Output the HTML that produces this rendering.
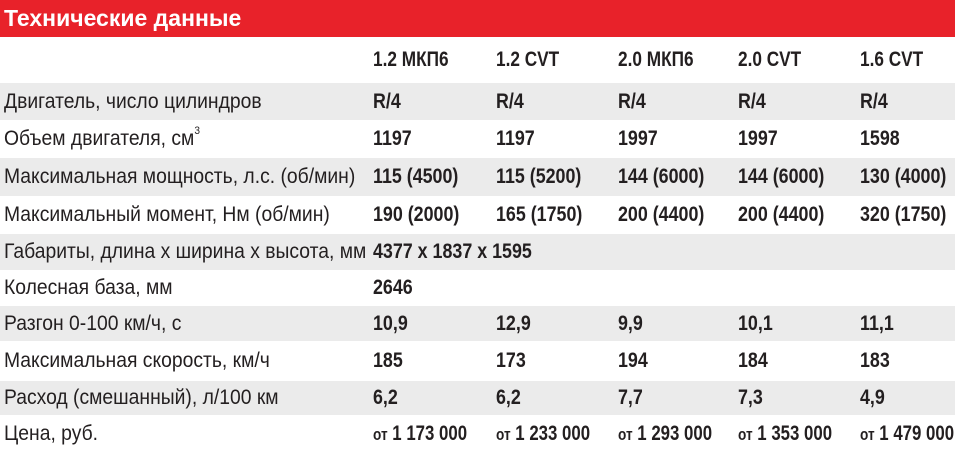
<!DOCTYPE html>
<html><head><meta charset="utf-8"><style>
body{margin:0;width:955px;height:452px;overflow:hidden;background:#fff;font-family:"Liberation Sans",sans-serif;color:#231f20}
.hd{position:absolute;left:0;top:0;width:955px;height:37px;background:#e8222a;color:#fff;font:bold 23px "Liberation Sans",sans-serif;line-height:37px;padding-left:4px;box-sizing:border-box}
.r{position:absolute;left:0;width:955px}
.g{background:#ebebeb}
.r span{position:absolute;top:50%;white-space:nowrap;font-size:21px;transform-origin:left center}
.l{left:4px;transform:translateY(-50%) scaleX(0.92)}
.v{font-weight:bold;font-size:21px;transform:translateY(-50%) scaleX(0.85)}
.h .v{transform:translateY(-50%) scaleX(0.82)}
.p .v{transform:translateY(-50%) scaleX(0.8)}
.p small{font-size:17px}
sup{font-size:11px;vertical-align:top;position:relative;top:-2px}
</style></head><body>
<div class="hd">Технические данные</div>
<div class="r h" style="top:37px;height:46px"><span class="v" style="left:373px">1.2 МКП6</span><span class="v" style="left:496px">1.2 CVT</span><span class="v" style="left:618px">2.0 МКП6</span><span class="v" style="left:738px">2.0 CVT</span><span class="v" style="left:860px">1.6 CVT</span></div>
<div class="r g" style="top:83px;height:37px"><span class="l">Двигатель, число цилиндров</span><span class="v" style="left:373px">R/4</span><span class="v" style="left:496px">R/4</span><span class="v" style="left:618px">R/4</span><span class="v" style="left:738px">R/4</span><span class="v" style="left:860px">R/4</span></div>
<div class="r" style="top:120px;height:38px"><span class="l">Объем двигателя, см<sup>3</sup></span><span class="v" style="left:373px">1197</span><span class="v" style="left:496px">1197</span><span class="v" style="left:618px">1997</span><span class="v" style="left:738px">1997</span><span class="v" style="left:860px">1598</span></div>
<div class="r g" style="top:158px;height:38px"><span class="l">Максимальная мощность, л.с. (об/мин)</span><span class="v" style="left:373px">115 (4500)</span><span class="v" style="left:496px">115 (5200)</span><span class="v" style="left:618px">144 (6000)</span><span class="v" style="left:738px">144 (6000)</span><span class="v" style="left:860px">130 (4000)</span></div>
<div class="r" style="top:196px;height:38px"><span class="l">Максимальный момент, Нм (об/мин)</span><span class="v" style="left:373px">190 (2000)</span><span class="v" style="left:496px">165 (1750)</span><span class="v" style="left:618px">200 (4400)</span><span class="v" style="left:738px">200 (4400)</span><span class="v" style="left:860px">320 (1750)</span></div>
<div class="r g" style="top:234px;height:36px"><span class="l">Габариты, длина х ширина х высота, мм</span><span class="v" style="left:373px">4377 х 1837 х 1595</span></div>
<div class="r" style="top:270px;height:36px"><span class="l">Колесная база, мм</span><span class="v" style="left:373px">2646</span></div>
<div class="r g" style="top:306px;height:35px"><span class="l">Разгон 0-100 км/ч, с</span><span class="v" style="left:373px">10,9</span><span class="v" style="left:496px">12,9</span><span class="v" style="left:618px">9,9</span><span class="v" style="left:738px">10,1</span><span class="v" style="left:860px">11,1</span></div>
<div class="r" style="top:341px;height:40px"><span class="l">Максимальная скорость, км/ч</span><span class="v" style="left:373px">185</span><span class="v" style="left:496px">173</span><span class="v" style="left:618px">194</span><span class="v" style="left:738px">184</span><span class="v" style="left:860px">183</span></div>
<div class="r g" style="top:381px;height:34px"><span class="l">Расход (смешанный), л/100 км</span><span class="v" style="left:373px">6,2</span><span class="v" style="left:496px">6,2</span><span class="v" style="left:618px">7,7</span><span class="v" style="left:738px">7,3</span><span class="v" style="left:860px">4,9</span></div>
<div class="r p" style="top:415px;height:37px"><span class="l">Цена, руб.</span><span class="v" style="left:373px"><small>от</small> 1 173 000</span><span class="v" style="left:496px"><small>от</small> 1 233 000</span><span class="v" style="left:618px"><small>от</small> 1 293 000</span><span class="v" style="left:738px"><small>от</small> 1 353 000</span><span class="v" style="left:860px"><small>от</small> 1 479 000</span></div>
</body></html>
